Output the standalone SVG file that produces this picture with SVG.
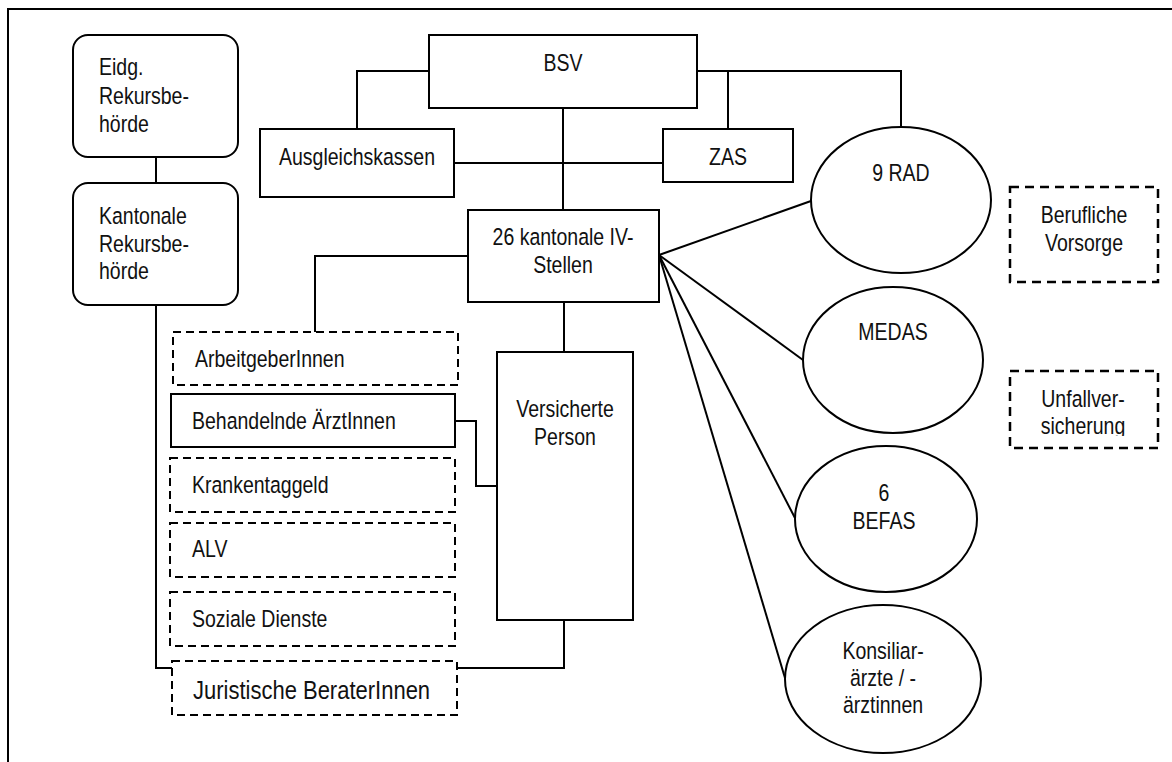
<svg xmlns="http://www.w3.org/2000/svg" width="1172" height="762" viewBox="0 0 1172 762">
<style>
.box{fill:#fff;stroke:#000;stroke-width:2}
.dash{fill:#fff;stroke:#000;stroke-width:2;stroke-dasharray:8 5}
.dash2{fill:#fff;stroke:#000;stroke-width:2.5;stroke-dasharray:9 6}
.ln{fill:none;stroke:#000;stroke-width:2}
.t{font-family:"Liberation Sans",Arial,sans-serif;font-size:23.5px;fill:#111}
.m{text-anchor:middle}
.big{font-size:26.5px}
</style>
<defs>
<clipPath id="clipU"><rect x="1000" y="360" width="170" height="76"/></clipPath>
</defs>
<rect x="0" y="0" width="1172" height="762" fill="#fff"/>
<g id="frame">
<path class="ln" d="M8,762 V9 H1172" stroke-width="2.5"/>
</g>
<g id="connectors">
<path class="ln" d="M156,157 V183"/>
<path class="ln" d="M156,305 V668 H172"/>
<path class="ln" d="M429,71 H357 V129"/>
<path class="ln" d="M697,71 H901 V127"/>
<path class="ln" d="M728,71 V129"/>
<path class="ln" d="M563,108 V210"/>
<path class="ln" d="M454,163 H563 H663"/>
<path class="ln" d="M468,256 H315 V332"/>
<path class="ln" d="M564,302 V352"/>
<path class="ln" d="M455,421 H476 V486 H497"/>
<path class="ln" d="M564,620 V668 H457"/>
<path class="ln" d="M659,255 L811,201"/>
<path class="ln" d="M659,255 L803,360"/>
<path class="ln" d="M659,255 L795,518"/>
<path class="ln" d="M659,255 L785,678"/>
</g>
<g id="eidg">
<rect class="box" x="73" y="35" width="165" height="122" rx="15"/>
<text class="t" transform="translate(99,75) scale(0.83,1)"><tspan x="0" y="0">Eidg.</tspan><tspan x="0" dy="29">Rekursbe-</tspan><tspan x="0" dy="28">hörde</tspan></text>
</g>
<g id="kantonale">
<rect class="box" x="73" y="183" width="165" height="122" rx="15"/>
<text class="t" transform="translate(99,224) scale(0.83,1)"><tspan x="0" y="0">Kantonale</tspan><tspan x="0" dy="28">Rekursbe-</tspan><tspan x="0" dy="27">hörde</tspan></text>
</g>
<g id="bsv">
<rect class="box" x="429" y="35" width="268" height="73"/>
<text class="t m" transform="translate(563,71) scale(0.83,1)">BSV</text>
</g>
<g id="ausgleichskassen">
<rect class="box" x="260" y="129" width="194" height="68"/>
<text class="t m" transform="translate(357,165) scale(0.83,1)">Ausgleichskassen</text>
</g>
<g id="zas">
<rect class="box" x="663" y="129" width="130" height="53"/>
<text class="t m" transform="translate(728,165) scale(0.83,1)">ZAS</text>
</g>
<g id="ivstellen">
<rect class="box" x="468" y="210" width="191" height="92"/>
<text class="t m" transform="translate(563,245) scale(0.83,1)"><tspan x="0" y="0">26 kantonale IV-</tspan><tspan x="0" dy="28">Stellen</tspan></text>
</g>
<g id="rad">
<ellipse class="box" cx="901" cy="200" rx="90" ry="73"/>
<text class="t m" transform="translate(901,181) scale(0.83,1)">9 RAD</text>
</g>
<g id="berufliche">
<rect class="dash2" x="1010" y="187" width="148" height="95"/>
<text class="t m" transform="translate(1084,223) scale(0.83,1)"><tspan x="0" y="0">Berufliche</tspan><tspan x="0" dy="28">Vorsorge</tspan></text>
</g>
<g id="medas">
<ellipse class="box" cx="893" cy="360" rx="90" ry="73"/>
<text class="t m" transform="translate(893,340) scale(0.83,1)">MEDAS</text>
</g>
<g id="unfall">
<rect class="dash2" x="1010" y="371" width="148" height="77"/>
<g clip-path="url(#clipU)">
<text class="t m" transform="translate(1083,407) scale(0.83,1)"><tspan x="0" y="0">Unfallver-</tspan><tspan x="0" dy="27">sicherung</tspan></text>
</g>
</g>
<g id="befas">
<ellipse class="box" cx="886" cy="519" rx="91" ry="73"/>
<text class="t m" transform="translate(884,501) scale(0.83,1)"><tspan x="0" y="0">6</tspan><tspan x="0" dy="28">BEFAS</tspan></text>
</g>
<g id="konsiliar">
<ellipse class="box" cx="883" cy="679" rx="98" ry="74"/>
<text class="t m" transform="translate(883,659) scale(0.83,1)"><tspan x="0" y="0">Konsiliar-</tspan><tspan x="0" dy="27">ärzte / -</tspan><tspan x="0" dy="27">ärztinnen</tspan></text>
</g>
<g id="arbeitgeber">
<rect class="dash" x="173" y="332" width="285" height="53"/>
<text class="t" transform="translate(195,367) scale(0.83,1)">ArbeitgeberInnen</text>
</g>
<g id="behandelnde">
<rect class="box" x="171" y="394" width="284" height="53"/>
<text class="t" transform="translate(192,429) scale(0.83,1)">Behandelnde ÄrztInnen</text>
</g>
<g id="krankentaggeld">
<rect class="dash" x="170" y="458" width="285" height="54"/>
<text class="t" transform="translate(192,493) scale(0.83,1)">Krankentaggeld</text>
</g>
<g id="alv">
<rect class="dash" x="170" y="523" width="285" height="54"/>
<text class="t" transform="translate(192,557) scale(0.83,1)">ALV</text>
</g>
<g id="soziale">
<rect class="dash" x="170" y="592" width="285" height="54"/>
<text class="t" transform="translate(192,627) scale(0.83,1)">Soziale Dienste</text>
</g>
<g id="juristische">
<rect class="dash" x="172" y="661" width="285" height="54"/>
<text class="t big" transform="translate(193,699) scale(0.83,1)">Juristische BeraterInnen</text>
</g>
<g id="versicherte">
<rect class="box" x="497" y="352" width="136" height="268"/>
<text class="t m" transform="translate(565,417) scale(0.83,1)"><tspan x="0" y="0">Versicherte</tspan><tspan x="0" dy="28">Person</tspan></text>
</g>
</svg>
